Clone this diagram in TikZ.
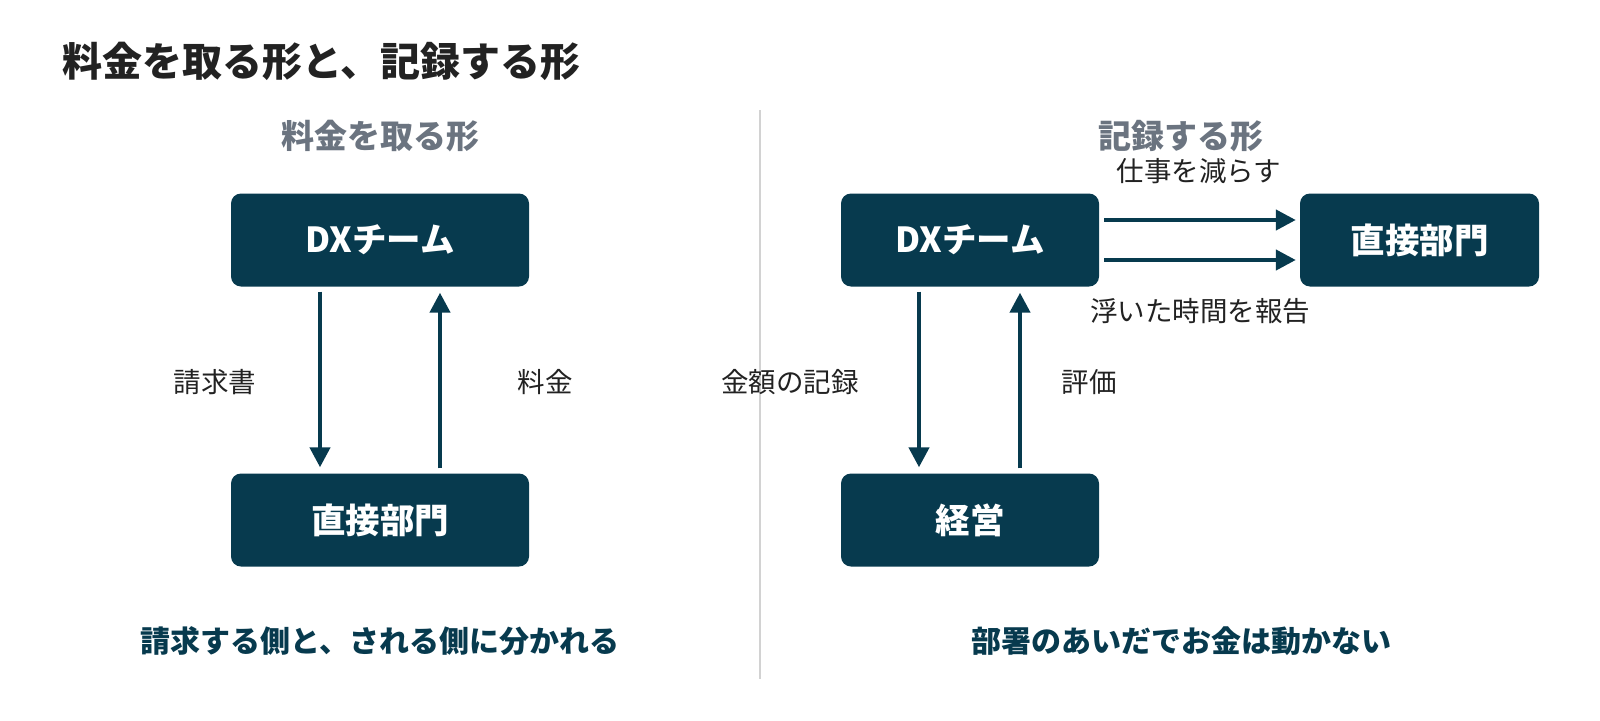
\documentclass[tikz,border=0pt]{standalone}
\usepackage{fontspec}
\setmainfont{Noto Sans CJK JP}
\usepackage{tikz}
\usetikzlibrary{arrows.meta}
\definecolor{dxblue}{HTML}{073A4E}
\definecolor{ink}{HTML}{222222}
\definecolor{slate}{HTML}{6B7480}
\definecolor{rule}{HTML}{D2D2D2}
\tikzstyle{box} = [fill=dxblue, rounded corners=10pt, minimum height=93pt, text=white, font={\fontsize{34.5}{40}\selectfont\bfseries}]
\tikzstyle{flow} = [draw=dxblue, line width=4.3pt, -{Triangle[length=20pt,width=20pt]}, shorten <=5pt, shorten >=6pt]
\tikzstyle{lbl} = [text=ink, inner sep=0pt, font={\fontsize{27.5}{32}\selectfont}]
\tikzstyle{head} = [text=slate, inner sep=0pt, font={\fontsize{33}{38}\selectfont\bfseries}]
\tikzstyle{note} = [text=dxblue, inner sep=0pt, font={\fontsize{30}{34}\selectfont\bfseries}]

\begin{document}
\begin{tikzpicture}[x=1pt,y=-1pt]
  \useasboundingbox (0,0) rectangle (1600,720);
  \node[text=ink,anchor=west,inner sep=0pt,font={\fontsize{40}{46}\selectfont\bfseries}](title) at (62,61){料金を取る形と、記録する形};
  \draw[rule,line width=1.5pt] (760,110) -- (760,679);
  \node[head](h1) at (380,136){料金を取る形};
  \node[head](h2) at (1181,136){記録する形};
  \node[box,minimum width=298pt](dx1) at (380,240){DXチーム};
  \node[box,minimum width=298pt](dept1) at (380,520){直接部門};
  \node[box,minimum width=258pt](dx2) at (970,240){DXチーム};
  \node[box,minimum width=258pt](mgmt) at (970,520){経営};
  \node[box,minimum width=239pt](dept2) at (1419.5,240){直接部門};
  \draw[flow]([xshift=-60pt]dx1.south)--([xshift=-60pt]dept1.north);
  \draw[flow]([xshift=60pt]dept1.north)--([xshift=60pt]dx1.south);
  \draw[flow]([xshift=-51pt]dx2.south)--([xshift=-51pt]mgmt.north);
  \draw[flow]([xshift=50pt]mgmt.north)--([xshift=50pt]dx2.south);
  \draw[flow,shorten >=4pt]([yshift=20pt]dx2.east)--([yshift=20pt]dept2.west);
  \draw[flow,shorten >=4pt]([yshift=-20pt]dx2.east)--([yshift=-20pt]dept2.west);
  \node[lbl](bill) at (215,382){請求書};
  \node[lbl](fee) at (545,382){料金};
  \node[lbl](rec) at (790,382){金額の記録};
  \node[lbl](eval) at (1089,382){評価};
  \node[lbl](cut) at (1199,171){仕事を減らす};
  \node[lbl](saved) at (1200,311){浮いた時間を報告};
  \node[note](n1) at (380,641){請求する側と、される側に分かれる};
  \node[note](n2) at (1181,641){部署のあいだでお金は動かない};
\end{tikzpicture}
\end{document}
